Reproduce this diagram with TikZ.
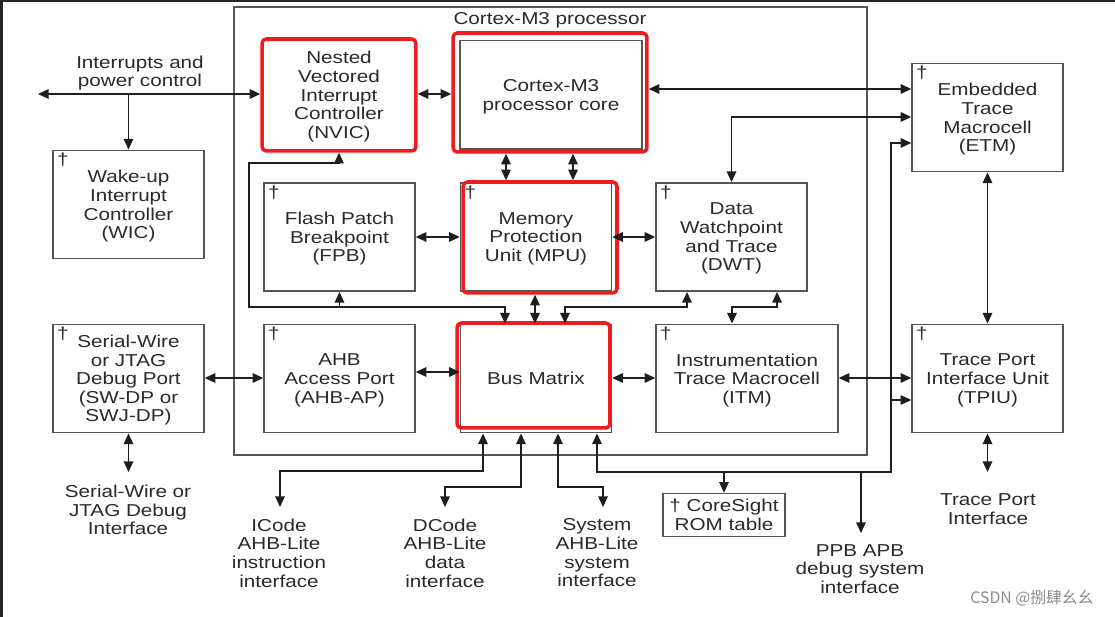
\documentclass[tikz,border=0pt]{standalone}
\usepackage{fontspec}
\setmainfont{Liberation Sans}[FakeStretch=1.2]
\newfontfamily\cjkfont{Noto Sans CJK SC}
\usetikzlibrary{arrows.meta}
\definecolor{boxgray}{HTML}{555555}
\definecolor{linec}{HTML}{1E1E1E}
\definecolor{hlred}{HTML}{EE1C1C}
\definecolor{txt}{HTML}{2A2A2A}
\begin{document}
\begin{tikzpicture}[x=0.02cm,y=-0.02cm,
  font=\fontsize{9.8}{10.6}\selectfont, text=txt,
  blk/.style={draw=boxgray, line width=0.85pt, align=center, inner sep=0pt, minimum width=3.02cm, minimum height=2.17cm, text depth=0pt},
  dag/.style={label={[anchor=north west, inner sep=0pt, xshift=2.5pt, yshift=-2pt]north west:†}},
  hl/.style={draw=hlred, line width=2pt, rounded corners=2.5pt, inner sep=0pt, align=center},
  lbl/.style={align=center, inner sep=0pt},
  con/.style={draw=linec, line width=0.75pt},
  tip/.tip={Triangle[length=6pt,width=5.4pt]},
  dbl/.style={con, tip-tip},
  arr/.style={con, -tip},
]
\fill[white] (0,0) rectangle (1115,617);
\useasboundingbox (0,0) rectangle (1115,617);
\draw[line width=1.4pt, black!85] (1.5,617) -- (1.5,1) -- (1115,1);

% processor frame
\node[draw=boxgray, line width=0.85pt, minimum width=12.66cm, minimum height=8.96cm, inner sep=0pt] (proc) at (550.5,231) {};
\node[lbl] (ptitle) at (550,20) {Cortex-M3 processor};

% blocks
\node[blk, dag] (wic) at (128.5,204.5) {Wake-up\\Interrupt\\Controller\\(WIC)};
\node[blk, dag] (fpb) at (339.5,237) {Flash Patch\\Breakpoint\\(FPB)};
\node[blk, dag] (mpu) at (536,237) {Memory\\Protection\\Unit (MPU)};
\node[blk, dag] (dwt) at (731.5,237) {Data\\Watchpoint\\and Trace\\(DWT)};
\node[blk, dag] (etm) at (987.5,117.5) {Embedded\\Trace\\Macrocell\\(ETM)};
\node[blk, dag] (swdp) at (128.5,378.5) {Serial-Wire\\or JTAG\\Debug Port\\(SW-DP or\\SWJ-DP)};
\node[blk, dag] (ahbap) at (339.5,378.5) {AHB\\Access Port\\(AHB-AP)};
\node[blk] (bus) at (536,378.5) {Bus Matrix};
\node[blk, dag, minimum width=3.64cm] (itm) at (747,378.5) {Instrumentation\\Trace Macrocell\\(ITM)};
\node[blk, dag] (tpiu) at (987.5,378.5) {Trace Port\\Interface Unit\\(TPIU)};
\node[blk, minimum width=3.64cm] (core) at (551,95) {Cortex-M3\\processor core};
\node[blk, minimum width=2.44cm, minimum height=0.86cm] (rom) at (724,515) {† CoreSight\\ROM table};

% red highlights
\node[hl, minimum width=3.08cm, minimum height=2.24cm, text depth=0pt] (nvic) at (339,95) {Nested\\Vectored\\Interrupt\\Controller\\(NVIC)};
\node[hl, minimum width=3.88cm, minimum height=2.38cm] (coreR) at (550,92.5) {};
\node[hl, minimum width=3.08cm, minimum height=2.22cm] (mpuR) at (540,237.5) {};
\node[hl, minimum width=3.06cm, minimum height=2.10cm] (busR) at (533.5,375.5) {};

% free labels
\node[lbl] (intlbl) at (140,73) {Interrupts and\\power control};
\node[lbl] (swlbl) at (128,510) {Serial-Wire or\\JTAG Debug\\Interface};
\node[lbl] (iclbl) at (279,553) {ICode\\AHB-Lite\\instruction\\interface};
\node[lbl] (dclbl) at (445,553) {DCode\\AHB-Lite\\data\\interface};
\node[lbl] (sylbl) at (597,553) {System\\AHB-Lite\\system\\interface};
\node[lbl] (ppblbl) at (860,569) {PPB APB\\debug system\\interface};
\node[lbl] (tplbl) at (988,509) {Trace Port\\Interface};
\node[text=black!45, font=\cjkfont\fontsize{9}{10}\selectfont] (wm) at (1032,598) {CSDN @捌肆幺幺};

% helper coordinates
\coordinate (intL) at (38,94);
\coordinate (intB) at (128.5,94);
\coordinate (a1) at (506,0);
\coordinate (a2) at (573,0);
\coordinate (y89) at (0,89);
\coordinate (y94) at (0,94);
\coordinate (y117) at (0,117);
\coordinate (y143) at (0,143);
\coordinate (y237) at (0,237);
\coordinate (y372) at (0,372);
\coordinate (y378) at (0,378);
\coordinate (tpE) at (987.5,472);
\coordinate (swE) at (128.5,472);
\coordinate (c535) at (535,0);
\coordinate (j1) at (249,163);
\coordinate (j2) at (505,307);
\coordinate (j3) at (565,307);
\coordinate (c687) at (687,0);
\coordinate (c777) at (777,0);
\coordinate (j4) at (732,307);
\coordinate (c483) at (483,0);
\coordinate (b1) at (280,471);
\coordinate (icE) at (280,507);
\coordinate (c521) at (521,0);
\coordinate (b2) at (445,487);
\coordinate (dcE) at (445,507);
\coordinate (c558) at (558,0);
\coordinate (b3) at (603,487);
\coordinate (syE) at (603,507);
\coordinate (c597) at (597,0);
\coordinate (b4) at (891,472);
\coordinate (r1) at (891,400);
\coordinate (r2) at (724,472);
\coordinate (r3) at (861,472);
\coordinate (ppE) at (861,533);

% connectors
\draw[dbl] (intL) -- (nvic.west |- y94);
\draw[arr] (intB) -- (intB |- wic.north);
\draw[dbl] (nvic.east |- y94) -- (coreR.west |- y94);
\draw[dbl] (coreR.south -| a1) -- (mpuR.north -| a1);
\draw[dbl] (coreR.south -| a2) -- (mpuR.north -| a2);
\draw[dbl] (fpb.east |- y237) -- (mpu.west |- y237);
\draw[dbl] (mpu.east |- y237) -- (dwt.west |- y237);
\draw[dbl] (coreR.east |- y89) -- (etm.west |- y89);
\draw[dbl] (dwt.north) |- (etm.west |- y117);
\draw[dbl] (etm.south) -- (tpiu.north);
\draw[dbl] (tpiu.south) -- (tpE);
\draw[dbl] (itm.east |- y378) -- (tpiu.west |- y378);
\draw[dbl] (bus.east |- y378) -- (itm.west |- y378);
\draw[dbl] (ahbap.east |- y372) -- (bus.west |- y372);
\draw[dbl] (swdp.east |- y378) -- (ahbap.west |- y378);
\draw[dbl] (swdp.south) -- (swE);
\draw[dbl] (mpuR.south -| c535) -- (bus.north -| c535);
\draw[dbl] (nvic.south) |- (j1) |- (j2) -- (bus.north -| j2);
\draw[arr] (fpb.south |- j2) -- (fpb.south);
\draw[dbl] (bus.north -| j3) -- (j3) -| (dwt.south -| c687);
\draw[dbl] (dwt.south -| c777) |- (j4) -- (itm.north -| j4);
\draw[dbl] (bus.south -| c483) |- (b1) -- (icE);
\draw[dbl] (bus.south -| c521) |- (b2) -- (dcE);
\draw[dbl] (bus.south -| c558) |- (b3) -- (syE);
\draw[dbl] (bus.south -| c597) |- (b4) |- (etm.west |- y143);
\draw[arr] (r1) -- (tpiu.west |- r1);
\draw[arr] (r2) -- (rom.north);
\draw[arr] (r3) -- (ppE);
\end{tikzpicture}
\end{document}
